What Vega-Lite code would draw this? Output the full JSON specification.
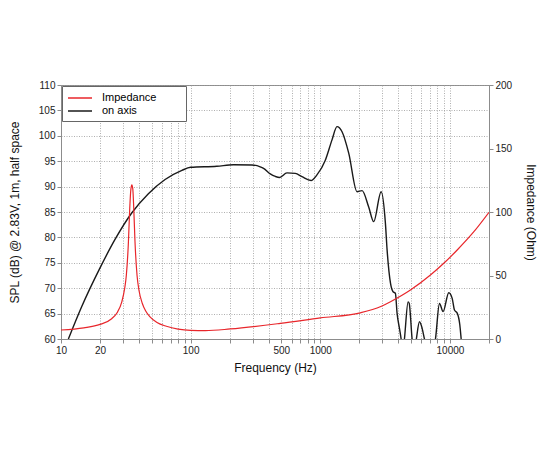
{
  "$schema": "https://vega.github.io/schema/vega-lite/v6.json",
  "description": "Woofer SPL (on axis) and impedance vs frequency",
  "autosize": "none",
  "width": 428,
  "height": 254,
  "padding": {"left": 61, "top": 85, "right": 61, "bottom": 111},
  "background": "white",
  "config": {
    "font": "Liberation Sans",
    "view": {"stroke": "#8c8c8c"},
    "axis": {
      "labelFont": "Liberation Sans",
      "titleFont": "Liberation Sans",
      "labelFontSize": 10,
      "titleFontSize": 12,
      "titleFontWeight": "normal",
      "labelColor": "#222",
      "titleColor": "#111",
      "domainColor": "#8c8c8c",
      "tickColor": "#8c8c8c",
      "tickSize": 4,
      "gridColor": "#9a9a9a",
      "gridDash": [1, 1.5],
      "gridWidth": 0.8
    },
    "legend": {"labelFont": "Liberation Sans", "labelFontSize": 11}
  },
  "datasets": {
    "spl": [
      {"f": 11.4, "db": 60},
      {"f": 14.4, "db": 66.3},
      {"f": 20, "db": 74.0},
      {"f": 26.1, "db": 79.6},
      {"f": 35.1, "db": 84.8},
      {"f": 47.2, "db": 88.6},
      {"f": 63.5, "db": 91.4},
      {"f": 85.6, "db": 93.2},
      {"f": 100, "db": 93.8},
      {"f": 159, "db": 94.0},
      {"f": 214, "db": 94.3},
      {"f": 297, "db": 94.25},
      {"f": 344, "db": 93.9},
      {"f": 365, "db": 93.6},
      {"f": 411, "db": 92.5},
      {"f": 450, "db": 92.0},
      {"f": 485, "db": 91.8},
      {"f": 553, "db": 92.7},
      {"f": 641, "db": 92.6},
      {"f": 722, "db": 91.95},
      {"f": 848, "db": 91.2},
      {"f": 942, "db": 92.3},
      {"f": 1093, "db": 95.2},
      {"f": 1231, "db": 99.2},
      {"f": 1345, "db": 101.8},
      {"f": 1471, "db": 100.8},
      {"f": 1656, "db": 96.6},
      {"f": 1920, "db": 89.0},
      {"f": 2099, "db": 89.2},
      {"f": 2361, "db": 86.0},
      {"f": 2581, "db": 83.1},
      {"f": 2944, "db": 89.0},
      {"f": 3177, "db": 82.8},
      {"f": 3275, "db": 77.5},
      {"f": 3477, "db": 71.0},
      {"f": 3640, "db": 69.3},
      {"f": 3793, "db": 69.0},
      {"f": 3908, "db": 65.1},
      {"f": 4096, "db": 61.8},
      {"f": 4200, "db": 60},
      {"f": 4320, "db": 57},
      {"f": 4455, "db": 60},
      {"f": 4755, "db": 67.3},
      {"f": 4850, "db": 67.0},
      {"f": 5105, "db": 60},
      {"f": 5300, "db": 57},
      {"f": 5506, "db": 60},
      {"f": 5820, "db": 63.4},
      {"f": 6100, "db": 62.1},
      {"f": 6356, "db": 60},
      {"f": 7000, "db": 56},
      {"f": 7730, "db": 60},
      {"f": 8300, "db": 67.0},
      {"f": 8850, "db": 65.4},
      {"f": 9790, "db": 69.1},
      {"f": 10400, "db": 68.0},
      {"f": 10830, "db": 65.7},
      {"f": 11370, "db": 65.1},
      {"f": 11910, "db": 62.8},
      {"f": 12200, "db": 60},
      {"f": 12500, "db": 57}
    ],
    "impedance": [
      {"f": 10, "ohm": 7.1},
      {"f": 15, "ohm": 8.8},
      {"f": 20, "ohm": 11.5},
      {"f": 24.6, "ohm": 16},
      {"f": 27, "ohm": 20.5},
      {"f": 29.4, "ohm": 29},
      {"f": 31, "ohm": 40},
      {"f": 31.9, "ohm": 50},
      {"f": 33.1, "ohm": 76},
      {"f": 33.9, "ohm": 103},
      {"f": 34.6, "ohm": 118},
      {"f": 35.2, "ohm": 121.3},
      {"f": 35.8, "ohm": 118},
      {"f": 36.4, "ohm": 103},
      {"f": 37.2, "ohm": 77},
      {"f": 38.6, "ohm": 50},
      {"f": 40, "ohm": 38},
      {"f": 42.4, "ohm": 28},
      {"f": 45, "ohm": 22},
      {"f": 48.6, "ohm": 17.5},
      {"f": 55, "ohm": 13},
      {"f": 65, "ohm": 10},
      {"f": 80, "ohm": 7.8},
      {"f": 100, "ohm": 6.8},
      {"f": 130, "ohm": 6.6},
      {"f": 202, "ohm": 7.9},
      {"f": 491, "ohm": 12.3},
      {"f": 1000, "ohm": 16.6},
      {"f": 2036, "ohm": 20.6},
      {"f": 2930, "ohm": 25.6},
      {"f": 3477, "ohm": 29.4},
      {"f": 4955, "ohm": 38.6},
      {"f": 7070, "ohm": 50.4},
      {"f": 8960, "ohm": 59.6},
      {"f": 11370, "ohm": 70.1},
      {"f": 15290, "ohm": 84.5},
      {"f": 20000, "ohm": 99.8}
    ]
  },
  "encoding": {
    "x": {
      "field": "f",
      "type": "quantitative",
      "scale": {"type": "log", "domain": [10, 20000], "nice": false},
      "axis": {
        "title": "Frequency (Hz)",
        "titlePadding": 7,
        "values": [10, 20, 30, 40, 50, 60, 70, 80, 90, 100, 200, 300, 400, 500, 600, 700, 800, 900, 1000, 2000, 3000, 4000, 5000, 6000, 7000, 8000, 9000, 10000, 20000],
        "labelExpr": "indexof([10, 20, 100, 500, 1000, 10000], datum.value) >= 0 ? datum.value : ''",
        "labelFlush": false,
        "labelOverlap": false
      }
    }
  },
  "layer": [
    {
      "data": {"name": "spl"},
      "mark": {"type": "line", "strokeWidth": 1.4, "clip": true, "interpolate": "monotone"},
      "encoding": {
        "y": {
          "field": "db",
          "type": "quantitative",
          "scale": {"domain": [60, 110], "nice": false, "zero": false},
          "axis": {
            "title": "SPL (dB) @ 2.83V, 1m, half space",
            "orient": "left",
            "values": [60, 65, 70, 75, 80, 85, 90, 95, 100, 105, 110],
            "titlePadding": 17
          }
        },
        "color": {
          "datum": "on axis",
          "type": "nominal",
          "scale": {"domain": ["Impedance", "on axis"], "range": ["#e8262b", "#1a1a1a"]},
          "legend": {
            "title": null,
            "orient": "top-left",
            "offset": 1,
            "symbolType": "M-1,0H3",
            "symbolSize": 144,
            "symbolStrokeWidth": 1.5,
            "fillColor": "white",
            "strokeColor": "#666",
            "padding": 5,
            "rowPadding": 1,
            "labelOffset": 21,
            "labelExpr": "datum.label + '\u00a0\u00a0\u00a0\u00a0\u00a0\u00a0\u00a0\u00a0\u200b'"
          }
        }
      }
    },
    {
      "data": {"name": "impedance"},
      "mark": {"type": "line", "strokeWidth": 1.2, "clip": true, "interpolate": "monotone"},
      "encoding": {
        "y": {
          "field": "ohm",
          "type": "quantitative",
          "scale": {"domain": [0, 200], "nice": false},
          "axis": {
            "title": "Impedance (Ohm)",
            "orient": "right",
            "values": [0, 50, 100, 150, 200],
            "grid": false,
            "titlePadding": 12
          }
        },
        "color": {"datum": "Impedance", "type": "nominal"}
      }
    }
  ],
  "resolve": {"scale": {"y": "independent"}}
}
